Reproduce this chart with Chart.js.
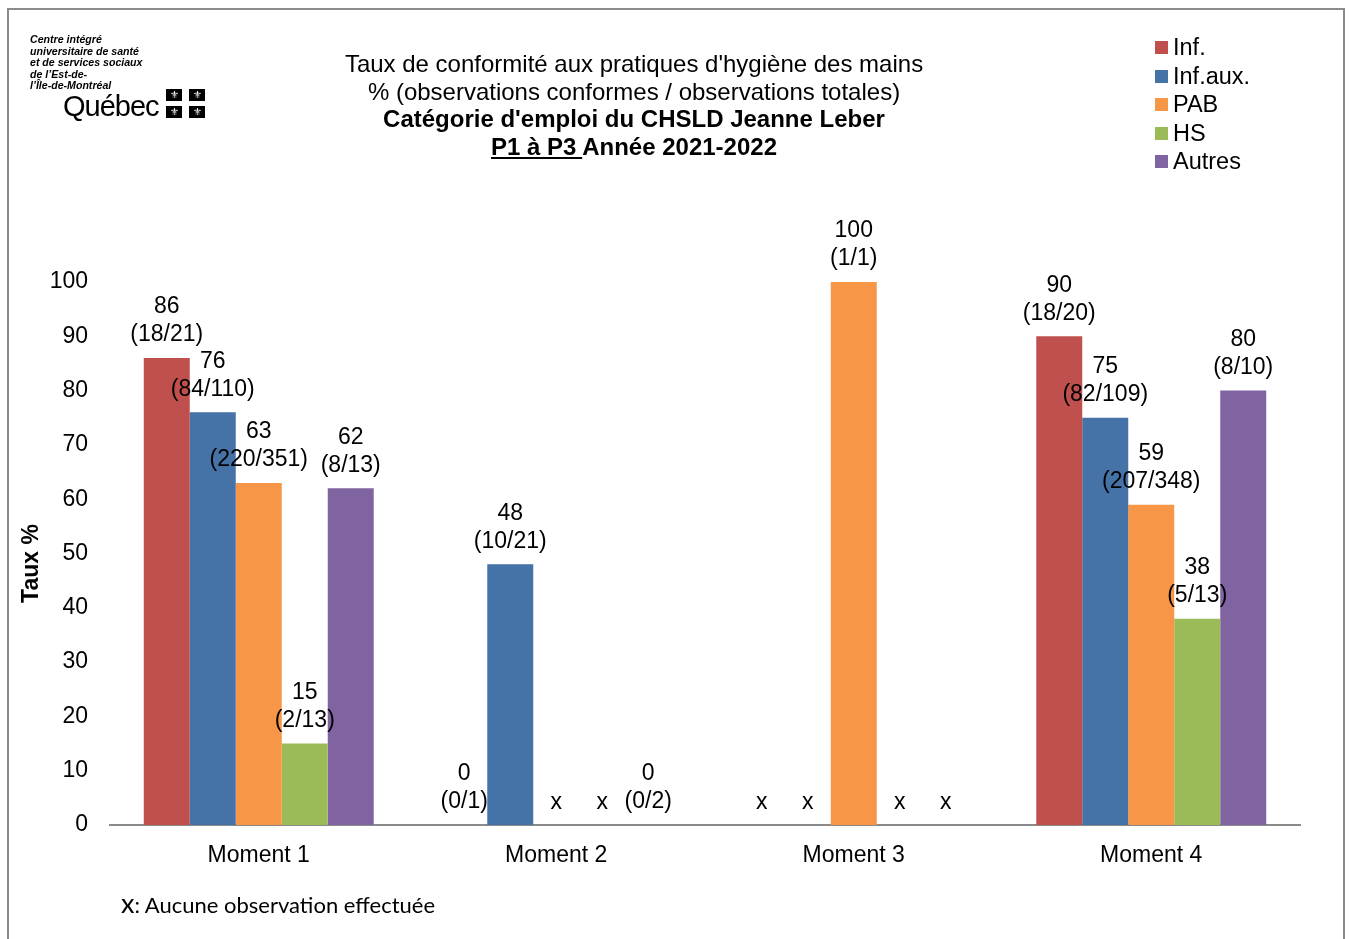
<!DOCTYPE html>
<html><head><meta charset="utf-8">
<script src="https://cdn.jsdelivr.net/npm/chart.js@4.4.1/dist/chart.umd.min.js"></script>
<style>
html,body{margin:0;padding:0;background:#fff;}
#wrap{position:relative;width:1350px;height:939px;overflow:hidden;font-family:"Liberation Sans",Arial,sans-serif;}
#frame{position:absolute;left:7px;top:8px;width:1338px;height:960px;border:2px solid #8c8c8c;box-sizing:border-box;}
canvas{position:absolute;left:0;top:0;}
.abs{position:absolute;white-space:nowrap;color:#000;}
#logo{left:30px;top:34px;font-size:10.6px;font-weight:bold;font-style:italic;line-height:11.5px;}
#quebec{left:63px;top:89px;font-size:29px;line-height:34px;letter-spacing:-1px;}
.flag{position:absolute;width:16px;height:12px;background:#000;color:#fff;font-size:10px;line-height:12px;text-align:center;}
#title{left:234px;width:800px;top:50px;text-align:center;font-size:24px;line-height:27.5px;}
#legend{left:1155px;top:33px;font-size:23.5px;line-height:28.5px;}
#legend div{position:relative;padding-left:18px;}
#legend span{position:absolute;left:0;top:8px;width:13px;height:13px;}
#note{left:121px;top:886px;font-family:Lato,"Open Sans",sans-serif;font-size:22px;}
</style></head>
<body>
<div id="wrap">
<canvas id="c" width="1350" height="939"></canvas>
<div id="frame"></div>
<div id="logo" class="abs">Centre intégré<br>universitaire de santé<br>et de services sociaux<br>de l’Est-de-<br>l’Île-de-Montréal</div>
<div id="quebec" class="abs">Québec</div>
<div class="flag" style="left:166px;top:89px">⚜</div>
<div class="flag" style="left:189px;top:89px">⚜</div>
<div class="flag" style="left:166px;top:106px">⚜</div>
<div class="flag" style="left:189px;top:106px">⚜</div>
<div id="title" class="abs">Taux de conformité aux pratiques d'hygiène des mains<br>% (observations conformes / observations totales)<br><b>Catégorie d'emploi du CHSLD Jeanne Leber</b><br><b><u>P1 à P3 </u>Année 2021-2022</b></div>
<div id="legend" class="abs"></div>
<div id="note" class="abs"><span style="font-size:27px">x</span>: Aucune observation effectuée</div>
</div>
<script>
const categories = ["Moment 1", "Moment 2", "Moment 3", "Moment 4"];
const seriesNames = ["Inf.", "Inf.aux.", "PAB", "HS", "Autres"];
const seriesColors = ["#C0504D", "#4572A7", "#F79646", "#9BBB59", "#8064A2"];
const infValues = [86, 0, null, 90];
const infauxValues = [76, 48, null, 75];
const pabValues = [63, null, 100, 59];
const hsValues = [15, null, null, 38];
const autresValues = [62, 0, null, 80];
const infFractions = ["(18/21)", "(0/1)", null, "(18/20)"];
const infauxFractions = ["(84/110)", "(10/21)", null, "(82/109)"];
const pabFractions = ["(220/351)", null, "(1/1)", "(207/348)"];
const hsFractions = ["(2/13)", null, null, "(5/13)"];
const autresFractions = ["(8/13)", "(0/2)", null, "(8/10)"];
const yTicks = [0, 10, 20, 30, 40, 50, 60, 70, 80, 90, 100];
const yTitle = "Taux %";
const missingMark = "x";

const allValues = [infValues, infauxValues, pabValues, hsValues, autresValues];
const allFractions = [infFractions, infauxFractions, pabFractions, hsFractions, autresFractions];
const FONT = '"Liberation Sans", Arial, sans-serif';

const leg = document.getElementById('legend');
seriesNames.forEach((n, i) => {
  const d = document.createElement('div');
  d.innerHTML = '<span style="background:' + seriesColors[i] + '"></span>' + n;
  leg.appendChild(d);
});

const labelPlugin = {
  id: 'barLabels',
  afterDatasetsDraw(chart) {
    const ctx = chart.ctx;
    const y = chart.scales.y;
    ctx.save();
    ctx.font = '23px ' + FONT;
    ctx.fillStyle = '#000';
    ctx.textAlign = 'center';
    ctx.textBaseline = 'middle';
    chart.data.datasets.forEach((ds, di) => {
      const meta = chart.getDatasetMeta(di);
      meta.data.forEach((bar, i) => {
        const v = ds.data[i];
        const x = bar.x;
        if (v === null || v === undefined) {
          ctx.fillText(missingMark, x, y.getPixelForValue(0) - 22);
        } else {
          const top = y.getPixelForValue(v);
          ctx.fillText(String(v), x, top - 51);
          ctx.fillText(allFractions[di][i], x, top - 23);
        }
      });
    });
    // y axis title, slightly below the axis centre as in the reference
    ctx.font = 'bold 23px ' + FONT;
    ctx.translate(32, (chart.chartArea.top + chart.chartArea.bottom) / 2 + 10);
    ctx.rotate(-Math.PI / 2);
    ctx.fillText(yTitle, 0, 0);
    ctx.restore();
  }
};

new Chart(document.getElementById('c'), {
  type: 'bar',
  data: {
    labels: categories,
    datasets: seriesNames.map((n, i) => ({
      label: n,
      data: allValues[i],
      backgroundColor: seriesColors[i],
      borderWidth: 0,
      barPercentage: 1,
      categoryPercentage: 0.773
    }))
  },
  options: {
    responsive: false,
    animation: false,
    layout: { padding: { left: 20, right: 50, top: 282, bottom: 0 } },
    plugins: { legend: { display: false }, tooltip: { enabled: false }, title: { display: false } },
    scales: {
      x: {
        grid: { display: false, drawTicks: false },
        border: { display: true, color: '#8a8a8a', width: 2 },
        ticks: { color: '#000', font: { size: 23, family: FONT }, padding: 17 },
        afterFit(s) { s.height = 114; }
      },
      y: {
        min: 0, max: 100,
        afterBuildTicks(s) { s.ticks = yTicks.map(v => ({ value: v })); },
        grid: { display: false, drawTicks: false },
        border: { display: false },
        ticks: { color: '#000', font: { size: 23, family: FONT }, padding: 22 },
        title: { display: false },
        afterFit(s) { s.width = 90; }
      }
    }
  },
  plugins: [labelPlugin]
});
</script>
</body></html>
